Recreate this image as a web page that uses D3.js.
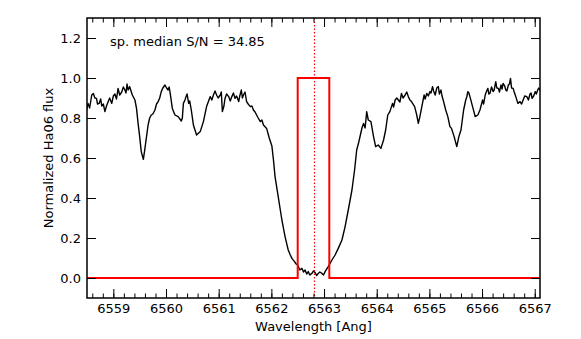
<!DOCTYPE html>
<html>
<head>
<meta charset="utf-8">
<script src="https://cdn.jsdelivr.net/npm/d3@7"></script>
<style>
  body { margin: 0; background: #fff; }
  svg text { font-family: "DejaVu Sans", sans-serif; fill: #000; }
</style>
</head>
<body>
<div id="chart"></div>
<script>
// spectrum (wavelength in Angstrom, normalized flux)
var wave = [6558.49,6558.52,6558.55,6558.59,6558.62,6558.65,6558.68,6558.70,6558.73,6558.76,
  6558.78,6558.81,6558.84,6558.87,6558.90,6558.93,6558.97,6559.00,6559.03,6559.06,
  6559.09,6559.12,6559.16,6559.19,6559.22,6559.24,6559.26,6559.28,6559.31,6559.33,
  6559.36,6559.41,6559.44,6559.47,6559.50,6559.53,6559.57,6559.60,6559.63,6559.66,
  6559.69,6559.72,6559.75,6559.79,6559.82,6559.85,6559.88,6559.91,6559.94,6559.98,
  6560.01,6560.04,6560.06,6560.08,6560.12,6560.17,6560.23,6560.29,6560.31,6560.33,
  6560.36,6560.38,6560.40,6560.43,6560.45,6560.48,6560.52,6560.58,6560.65,6560.71,
  6560.77,6560.84,6560.87,6560.90,6560.93,6560.96,6560.99,6561.03,6561.05,6561.07,
  6561.10,6561.12,6561.15,6561.19,6561.22,6561.25,6561.28,6561.31,6561.34,6561.38,
  6561.40,6561.43,6561.45,6561.47,6561.50,6561.53,6561.56,6561.60,6561.63,6561.66,
  6561.69,6561.72,6561.75,6561.79,6561.82,6561.85,6561.91,6561.96,6562.01,6562.04,
  6562.07,6562.10,6562.13,6562.17,6562.20,6562.23,6562.26,6562.29,6562.32,6562.36,
  6562.39,6562.44,6562.47,6562.50,6562.54,6562.58,6562.61,6562.64,6562.67,6562.70,
  6562.73,6562.77,6562.80,6562.83,6562.86,6562.89,6562.92,6562.96,6562.99,6563.02,
  6563.08,6563.15,6563.21,6563.27,6563.34,6563.40,6563.46,6563.53,6563.58,6563.62,
  6563.66,6563.72,6563.75,6563.78,6563.81,6563.84,6563.89,6563.94,6563.98,6564.03,
  6564.08,6564.13,6564.17,6564.21,6564.25,6564.30,6564.32,6564.35,6564.38,6564.41,
  6564.44,6564.47,6564.50,6564.54,6564.57,6564.60,6564.63,6564.66,6564.72,6564.76,
  6564.79,6564.82,6564.85,6564.90,6564.92,6564.95,6564.98,6565.01,6565.03,6565.06,
  6565.08,6565.11,6565.14,6565.17,6565.19,6565.22,6565.24,6565.27,6565.31,6565.35,
  6565.39,6565.42,6565.47,6565.52,6565.56,6565.60,6565.65,6565.69,6565.71,6565.73,
  6565.75,6565.77,6565.82,6565.87,6565.92,6565.96,6566.01,6566.03,6566.06,6566.08,
  6566.11,6566.13,6566.15,6566.18,6566.21,6566.23,6566.26,6566.28,6566.31,6566.33,
  6566.36,6566.38,6566.40,6566.43,6566.45,6566.47,6566.50,6566.52,6566.54,6566.56,
  6566.59,6566.61,6566.64,6566.68,6566.72,6566.75,6566.78,6566.81,6566.85,6566.88,
  6566.91,6566.93,6566.95,6566.98,6567.01,6567.03,6567.06,6567.08,6567.10];
var flux = [0.84,0.873,0.85,0.915,0.923,0.90,0.898,0.87,0.873,0.895,
  0.86,0.87,0.832,0.86,0.88,0.90,0.873,0.91,0.92,0.895,
  0.948,0.915,0.93,0.955,0.94,0.925,0.97,0.94,0.957,0.94,
  0.915,0.89,0.848,0.773,0.707,0.632,0.593,0.648,0.707,0.765,
  0.80,0.815,0.82,0.84,0.87,0.882,0.90,0.932,0.95,0.965,
  0.95,0.94,0.955,0.923,0.848,0.815,0.807,0.785,0.80,0.873,
  0.89,0.907,0.92,0.873,0.885,0.84,0.765,0.715,0.732,0.782,
  0.857,0.907,0.89,0.915,0.935,0.915,0.90,0.915,0.93,0.832,
  0.86,0.898,0.92,0.907,0.885,0.907,0.925,0.898,0.91,0.882,
  0.91,0.94,0.90,0.915,0.93,0.882,0.87,0.857,0.86,0.84,
  0.83,0.815,0.80,0.782,0.79,0.765,0.748,0.70,0.66,0.59,
  0.507,0.457,0.407,0.34,0.29,0.248,0.207,0.173,0.14,0.115,
  0.098,0.082,0.07,0.065,0.04,0.048,0.03,0.04,0.02,0.032,
  0.015,0.023,0.035,0.027,0.012,0.023,0.03,0.023,0.015,0.032,
  0.057,0.09,0.115,0.148,0.19,0.257,0.34,0.44,0.54,0.64,
  0.68,0.75,0.773,0.75,0.832,0.79,0.782,0.707,0.657,0.665,
  0.648,0.69,0.74,0.815,0.832,0.873,0.855,0.89,0.90,0.89,
  0.88,0.923,0.90,0.915,0.93,0.907,0.89,0.882,0.857,0.815,
  0.773,0.807,0.848,0.915,0.895,0.923,0.91,0.932,0.925,0.957,
  0.935,0.915,0.95,0.957,0.92,0.94,0.91,0.882,0.84,0.807,
  0.757,0.748,0.707,0.657,0.707,0.74,0.84,0.89,0.905,0.932,
  0.925,0.907,0.857,0.807,0.815,0.84,0.89,0.87,0.915,0.93,
  0.948,0.92,0.923,0.955,0.932,0.94,0.982,0.95,0.948,0.93,
  0.965,0.945,0.973,0.96,0.94,0.935,0.965,0.97,0.998,0.95,
  0.948,0.93,0.907,0.873,0.882,0.87,0.89,0.91,0.907,0.89,
  0.92,0.925,0.898,0.91,0.932,0.92,0.943,0.95,0.937];

// filter window (red box) and line centre
var boxWave = [6558.5,6562.5,6562.5,6563.1,6563.1,6567.1];
var boxFlux = [0,0,1,1,0,0];
var lineCentre = 6562.8;

var xMajor = [6559,6560,6561,6562,6563,6564,6565,6566,6567];
var yMajor = [0.0,0.2,0.4,0.6,0.8,1.0,1.2];
var snText = "sp. median S/N = 34.85";

var margin = {top: 18, right: 41, bottom: 41, left: 87};
var width = 581 - margin.left - margin.right;
var height = 339 - margin.top - margin.bottom;

var svg = d3.select("#chart").append("svg")
  .attr("width", 581).attr("height", 339);
var g = svg.append("g").attr("transform", "translate(" + margin.left + "," + margin.top + ")");

var x = d3.scaleLinear().domain([6558.5, 6567.1]).range([0, width]);
var y = d3.scaleLinear().domain([-0.1, 1.3]).range([height, 0]);

g.append("clipPath").attr("id", "clip")
  .append("rect").attr("width", width).attr("height", height);

var plot = g.append("g").attr("clip-path", "url(#clip)");

var line = d3.line().x(function(d){ return x(d[0]); }).y(function(d){ return y(d[1]); });

plot.append("path")
  .datum(d3.zip(wave, flux))
  .attr("d", line)
  .attr("fill", "none").attr("stroke", "#000").attr("stroke-width", 1.4)
  .attr("stroke-linejoin", "round");

plot.append("path")
  .datum(d3.zip(boxWave, boxFlux))
  .attr("d", line)
  .attr("fill", "none").attr("stroke", "#ff0000").attr("stroke-width", 2);

var cx = Math.round(x(lineCentre)) + 0.5;
plot.append("line")
  .attr("x1", cx).attr("x2", cx)
  .attr("y1", 0).attr("y2", height)
  .attr("stroke", "#ff0000").attr("stroke-width", 1.2)
  .attr("stroke-dasharray", "1.5,2");

// axes, ticks pointing inward
var minorX = d3.range(6558.6, 6567.15, 0.2);
function styleAxis(sel) {
  sel.select(".domain").remove();
  sel.selectAll("line").attr("stroke", "#000").attr("stroke-width", 1);
  sel.selectAll("text").attr("font-size", 13).attr("font-family", "DejaVu Sans");
}

g.append("g").attr("transform", "translate(0," + height + ")")
  .call(d3.axisBottom(x).tickValues(minorX).tickSize(-4.5).tickFormat(""))
  .call(styleAxis);
g.append("g").attr("transform", "translate(0," + height + ")")
  .call(d3.axisBottom(x).tickValues(xMajor).tickSize(-9).tickPadding(6).tickFormat(d3.format("d")))
  .call(styleAxis);
g.append("g")
  .call(d3.axisTop(x).tickValues(minorX).tickSize(-4.5).tickFormat(""))
  .call(styleAxis);
g.append("g")
  .call(d3.axisTop(x).tickValues(xMajor).tickSize(-9).tickFormat(""))
  .call(styleAxis);
g.append("g")
  .call(d3.axisLeft(y).tickValues(yMajor).tickSize(-9).tickPadding(6).tickFormat(d3.format(".1f")))
  .call(styleAxis);
g.append("g").attr("transform", "translate(" + width + ",0)")
  .call(d3.axisRight(y).tickValues(yMajor).tickSize(-9).tickFormat(""))
  .call(styleAxis);

g.append("rect")
  .attr("width", width).attr("height", height)
  .attr("fill", "none").attr("stroke", "#000").attr("stroke-width", 1.5);

g.append("text")
  .attr("x", 23).attr("y", 28)
  .attr("font-size", 13)
  .text(snText);

svg.append("text")
  .attr("x", margin.left + width / 2).attr("y", 331)
  .attr("text-anchor", "middle").attr("font-size", 13)
  .text("Wavelength [Ang]");

svg.append("text")
  .attr("transform", "translate(53," + (margin.top + height / 2) + ") rotate(-90)")
  .attr("text-anchor", "middle").attr("font-size", 13)
  .text("Normalized Ha06 flux");
</script>
</body>
</html>
